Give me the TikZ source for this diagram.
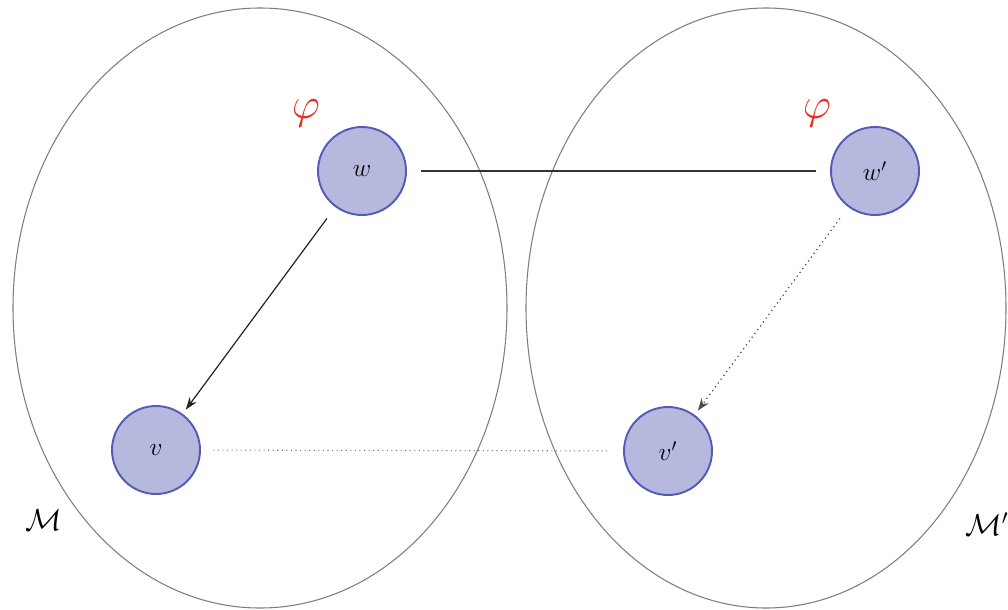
\documentclass[tikz,border=0pt]{standalone}
\usetikzlibrary{arrows.meta}
\definecolor{nodefill}{RGB}{182,184,222}
\definecolor{nodedraw}{RGB}{82,92,182}
\definecolor{ellgray}{RGB}{125,125,125}
\definecolor{phired}{RGB}{240,40,30}
\tikzset{
  world/.style={circle, draw=nodedraw, fill=nodefill, line width=1.1pt, minimum size=88*0.02cm, inner sep=0pt, font=\Large},
  model/.style={draw=ellgray, line width=0.6pt},
  phil/.style={text=phired, font=\fontsize{32}{32}\selectfont},
  mlab/.style={font=\LARGE},
}
\begin{document}
\begin{tikzpicture}[x=0.02cm, y=-0.02cm]
\useasboundingbox (0,0) rectangle (1008,609);
\draw[model] (260,308) ellipse [x radius=247, y radius=300];
\draw[model] (766,308) ellipse [x radius=240, y radius=300];
\node[world] (w) at (362,171) {$w$};
\node[world] (wp) at (875,171) {$w'$};
\node[world] (v) at (156,450) {$v$};
\node[world] (vp) at (668,451) {$v'$};
\node[phil] (phi1) at (306,113) {$\varphi$};
\node[phil] (phi2) at (817,113) {$\varphi$};
\node[mlab] (M) at (44,520) {$\mathcal{M}$};
\node[mlab] (Mp) at (987,524) {$\mathcal{M}'$};
\draw[line width=0.8pt, draw=black!80, shorten <=14pt*0.567, shorten >=14pt*0.567] (w) -- (wp);
\draw[line width=0.7pt, draw=black!85, -{Stealth[length=7pt,width=5pt]}, shorten <=8pt, shorten >=3pt] (w) -- (v);
\draw[line width=0.7pt, draw=black!70, dotted, -{Stealth[length=7pt,width=5pt]}, shorten <=8pt, shorten >=3pt] (wp) -- (vp);
\draw[line width=0.6pt, draw=black!55, dotted, shorten <=7pt, shorten >=7pt] (v) -- (vp);
\end{tikzpicture}
\end{document}
